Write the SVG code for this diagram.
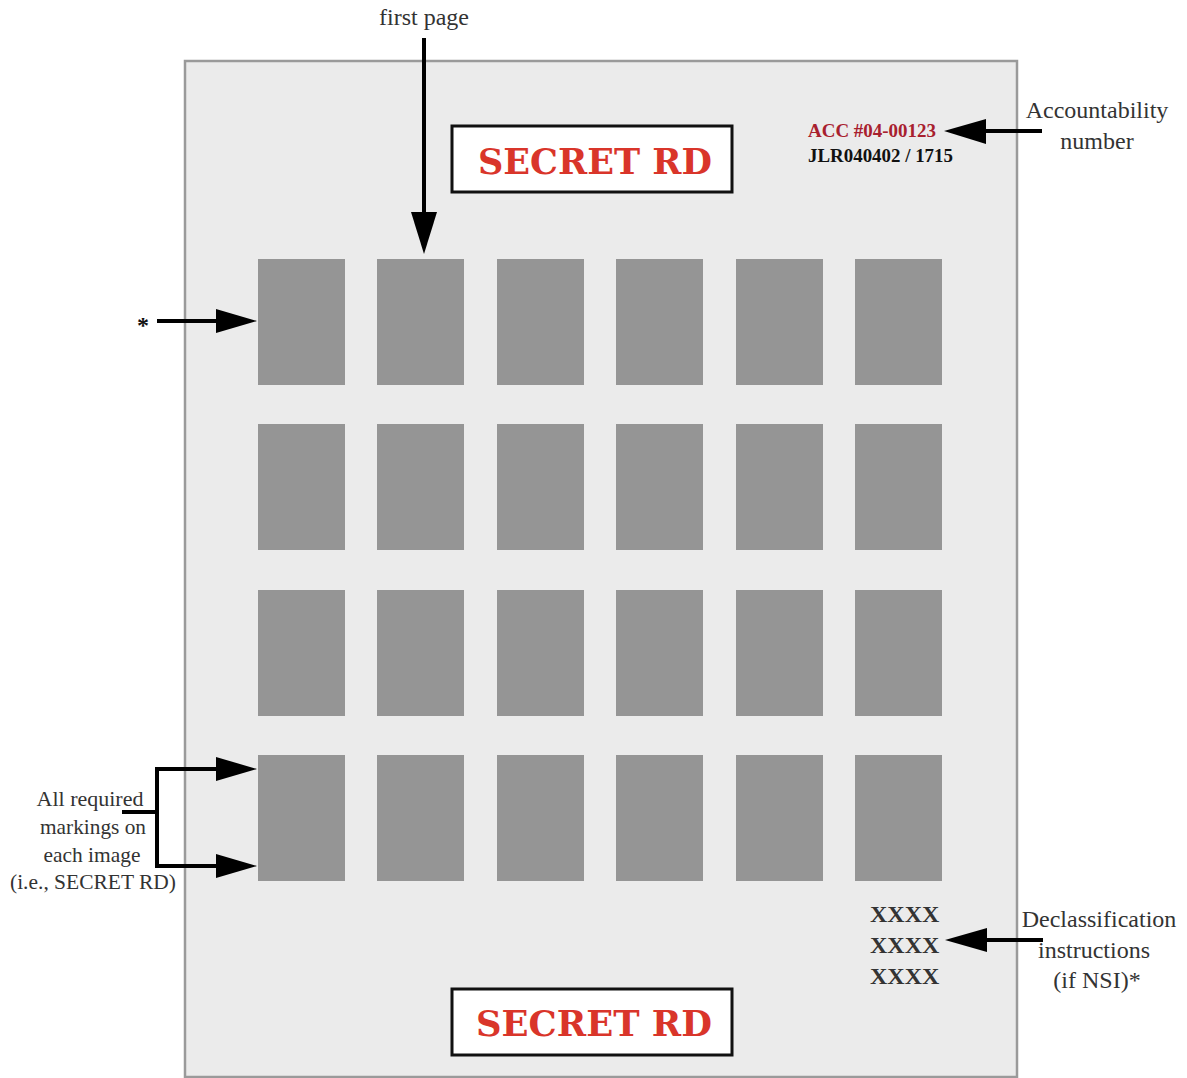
<svg xmlns="http://www.w3.org/2000/svg" width="1187" height="1078" viewBox="0 0 1187 1078">
<style>
.lbl{font-family:"Liberation Serif","DejaVu Serif",serif;font-size:24px;fill:#333;text-anchor:middle}
.lbs{font-family:"Liberation Serif","DejaVu Serif",serif;font-size:22px;fill:#333;text-anchor:middle}
.sec{font-family:"DejaVu Serif","Liberation Serif",serif;font-weight:bold;font-size:35px;fill:#d9352a;text-anchor:middle}
.img{fill:#959595}
.box{fill:#fff;stroke:#111;stroke-width:3}
.ln{stroke:#000;stroke-width:4;fill:none}
.xx{font-family:"Liberation Serif",serif;font-weight:bold;font-size:24px;fill:#333}
.acc{font-family:"Liberation Serif",serif;font-weight:bold;font-size:19px}
</style>
<rect width="1187" height="1078" fill="#fff"/>
<g id="page">
<rect x="185" y="61" width="832" height="1016" fill="#ebebeb" stroke="#9a9a9a" stroke-width="2.5"/>
</g>
<g id="images">
<rect class="img" x="258" y="259" width="87" height="126"/>
<rect class="img" x="377" y="259" width="87" height="126"/>
<rect class="img" x="497" y="259" width="87" height="126"/>
<rect class="img" x="616" y="259" width="87" height="126"/>
<rect class="img" x="736" y="259" width="87" height="126"/>
<rect class="img" x="855" y="259" width="87" height="126"/>
<rect class="img" x="258" y="424" width="87" height="126"/>
<rect class="img" x="377" y="424" width="87" height="126"/>
<rect class="img" x="497" y="424" width="87" height="126"/>
<rect class="img" x="616" y="424" width="87" height="126"/>
<rect class="img" x="736" y="424" width="87" height="126"/>
<rect class="img" x="855" y="424" width="87" height="126"/>
<rect class="img" x="258" y="590" width="87" height="126"/>
<rect class="img" x="377" y="590" width="87" height="126"/>
<rect class="img" x="497" y="590" width="87" height="126"/>
<rect class="img" x="616" y="590" width="87" height="126"/>
<rect class="img" x="736" y="590" width="87" height="126"/>
<rect class="img" x="855" y="590" width="87" height="126"/>
<rect class="img" x="258" y="755" width="87" height="126"/>
<rect class="img" x="377" y="755" width="87" height="126"/>
<rect class="img" x="497" y="755" width="87" height="126"/>
<rect class="img" x="616" y="755" width="87" height="126"/>
<rect class="img" x="736" y="755" width="87" height="126"/>
<rect class="img" x="855" y="755" width="87" height="126"/>
</g>
<g id="banner-top">
<rect class="box" x="452" y="126" width="280" height="66"/>
<text class="sec" x="595" y="174" textLength="234" lengthAdjust="spacingAndGlyphs">SECRET RD</text>
</g>
<g id="banner-bottom">
<rect class="box" x="452" y="989" width="280" height="66"/>
<text class="sec" x="594" y="1036" textLength="236" lengthAdjust="spacingAndGlyphs">SECRET RD</text>
</g>
<g id="acc">
<text class="acc" x="808" y="137" fill="#a8202e" textLength="128" lengthAdjust="spacingAndGlyphs">ACC #04-00123</text>
<text class="acc" x="808" y="162" fill="#111" textLength="145" lengthAdjust="spacingAndGlyphs">JLR040402 / 1715</text>
</g>
<g id="decl">
<text class="xx" x="870" y="922">XXXX</text>
<text class="xx" x="870" y="953">XXXX</text>
<text class="xx" x="870" y="984">XXXX</text>
</g>
<g id="labels">
<text class="lbl" x="424" y="25">first page</text>
<text class="lbl" x="1097" y="118">Accountability</text>
<text class="lbl" x="1097" y="149">number</text>
<text x="143" y="333" font-family="Liberation Serif,serif" font-weight="bold" font-size="24" fill="#111" text-anchor="middle">*</text>
<text class="lbs" x="90" y="806">All required</text>
<text class="lbs" x="93" y="834" textLength="106" lengthAdjust="spacingAndGlyphs">markings on</text>
<text class="lbs" x="92" y="862" textLength="97" lengthAdjust="spacingAndGlyphs">each image</text>
<text class="lbs" x="93" y="889" textLength="166" lengthAdjust="spacingAndGlyphs">(i.e., SECRET RD)</text>
<text class="lbl" x="1099" y="927">Declassification</text>
<text class="lbl" x="1094" y="958">instructions</text>
<text class="lbl" x="1097" y="988">(if NSI)*</text>
</g>
<g id="connectors">
<line class="ln" x1="424" y1="38" x2="424" y2="212"/>
<path d="M411,212 L437,212 L424,254 Z" fill="#000"/>
<line class="ln" x1="1042" y1="131" x2="984" y2="131"/>
<path d="M986,119 L986,144 L944,131 Z" fill="#000"/>
<line class="ln" x1="157" y1="321" x2="218" y2="321"/>
<path d="M216,309 L216,333 L257,321 Z" fill="#000"/>
<path class="ln" d="M122,812 L157,812 M157,769 L157,866 M155,769 L218,769 M155,866 L218,866"/>
<path d="M216,757 L216,781 L257,769 Z" fill="#000"/>
<path d="M216,854 L216,878 L257,866 Z" fill="#000"/>
<line class="ln" x1="1043" y1="940" x2="985" y2="940"/>
<path d="M987,928 L987,952 L945,940 Z" fill="#000"/>
</g>
</svg>
